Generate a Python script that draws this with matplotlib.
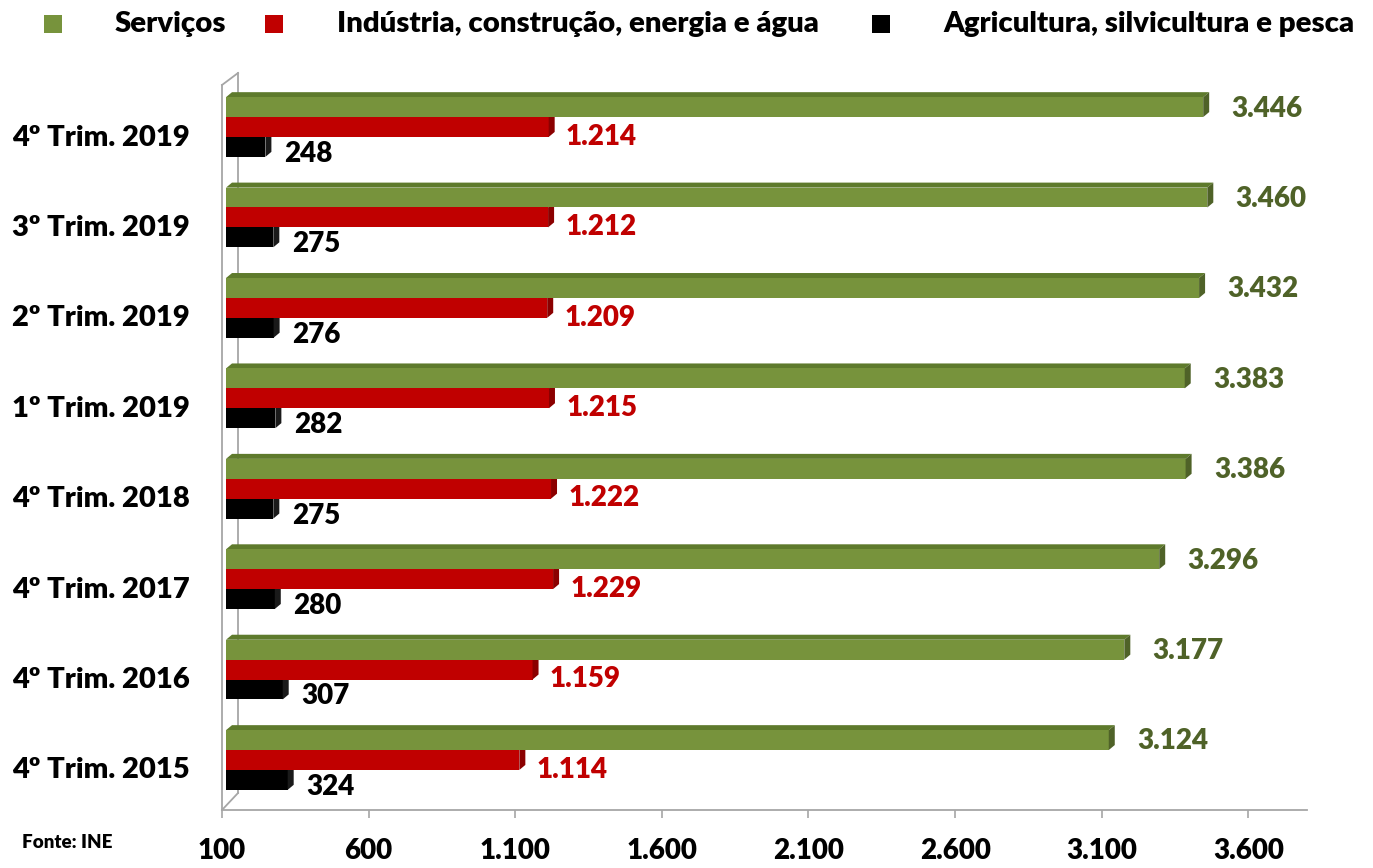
import matplotlib
matplotlib.use("Agg")
import matplotlib.pyplot as plt
from matplotlib.patches import Polygon, Rectangle
from matplotlib.lines import Line2D
from matplotlib.transforms import ScaledTranslation
import numpy as np

# ---------------- data ----------------
categories = ["4º Trim. 2015", "4º Trim. 2016", "4º Trim. 2017", "4º Trim. 2018",
              "1º Trim. 2019", "2º Trim. 2019", "3º Trim. 2019", "4º Trim. 2019"]
servicos = [3124, 3177, 3296, 3386, 3383, 3432, 3460, 3446]
industria = [1114, 1159, 1229, 1222, 1215, 1209, 1212, 1214]
agricultura = [324, 307, 280, 275, 282, 276, 275, 248]
series_names = ["Serviços", "Indústria, construção, energia e água",
                "Agricultura, silvicultura e pesca"]
xticks = [100, 600, 1100, 1600, 2100, 2600, 3100, 3600]
xtick_labels = ["100", "600", "1.100", "1.600", "2.100", "2.600", "3.100", "3.600"]
source = "Fonte: INE"

# ---------------- style ----------------
FONT = ["Lato", "DejaVu Sans"]
plt.rcParams["font.family"] = FONT
WEIGHT = "heavy"
W, H, DPI = 1373, 868, 100
XMIN, XMAX = 100, 3800
YMIN, YMAX = -0.553, 7.5

face = ["#77933C", "#C00000", "#000000"]
top_c = ["#5E7A2C", "#9A0000", "#262626"]
side_c = ["#4F6228", "#8B0000", "#1A1A1A"]
lab_c = ["#4F6228", "#C00000", "#000000"]

fig = plt.figure(figsize=(W / DPI, H / DPI), dpi=DPI)
ax_l, ax_r = 222, 1307
ax_b, ax_t = 810, 81.8
ax = fig.add_axes([ax_l / W, (H - ax_b) / H, (ax_r - ax_l) / W, (ax_b - ax_t) / H])
ax.set_xlim(XMIN, XMAX)
ax.set_ylim(YMIN, YMAX)

px_x = (XMAX - XMIN) / (ax_r - ax_l)     # data units per pixel (x)
px_y = (YMAX - YMIN) / (ax_b - ax_t)     # data units per pixel (y)
dx, dy = 6 * px_x, 5 * px_y
x0 = XMIN + 4 * px_x                     # bars start slightly inside the wall

y = np.arange(len(categories))
bh = 0.22
offs = [bh, 0.0, -bh]
data = [servicos, industria, agricultura]

# draw from bottom (black) to top (green) so upper bars cover lower tops
for k in [2, 1, 0]:
    vals = data[k]
    yc = y + offs[k]
    ax.barh(yc, np.array(vals) - x0, left=x0, height=bh, color=face[k],
            zorder=3 + (2 - k))
    for v, c in zip(vals, yc):
        y0, y1 = c - bh / 2, c + bh / 2
        top = Polygon([(x0, y1), (x0 + dx, y1 + dy), (v + dx, y1 + dy), (v, y1)],
                      closed=True, facecolor=top_c[k], edgecolor="none",
                      zorder=2.9 + (2 - k))
        side = Polygon([(v, y0), (v + dx, y0 + dy), (v + dx, y1 + dy), (v, y1)],
                       closed=True, facecolor=side_c[k], edgecolor="none",
                       zorder=3 + (2 - k))
        ax.add_patch(top)
        ax.add_patch(side)

def fmt(v):
    return f"{v:,}".replace(",", ".")

# value labels
label_off = [(16, -1), (8, -7), (9, -5)]   # points
for k in range(3):
    for v, c in zip(data[k], y + offs[k]):
        ax.annotate(fmt(v), xy=(v + dx, c), xytext=label_off[k],
                    textcoords="offset points", ha="left", va="center",
                    fontsize=20, fontweight=WEIGHT, color=lab_c[k], zorder=10)

# axes styling
for s in ["top", "right", "left"]:
    ax.spines[s].set_visible(False)
ax.spines["bottom"].set_color("#A6A6A6")
ax.spines["bottom"].set_linewidth(1.3)
ax.set_xticks(xticks)
ax.set_xticklabels(xtick_labels, fontsize=20, fontweight=WEIGHT)
ax.tick_params(axis="x", direction="out", length=6, width=1.2, color="#A6A6A6",
               pad=14)
ax.set_yticks(y)
ax.set_yticklabels(categories, fontsize=21, fontweight=WEIGHT)
ax.tick_params(axis="y", length=0, pad=23)
for lab in ax.get_yticklabels():
    lab.set_transform(lab.get_transform() + ScaledTranslation(0, -8 / DPI, fig.dpi_scale_trans))

# 3D side wall
wall_col = "#A6A6A6"
bx = 16 / (ax_r - ax_l)
by_top = (ax_b - 73) / (ax_b - ax_t)
fy_top = (ax_b - 85) / (ax_b - ax_t)
by_bot = 17 / (ax_b - ax_t)
for xs, ys in [([0, 0], [0, fy_top]), ([bx, bx], [by_bot, by_top]),
               ([0, bx], [fy_top, by_top]), ([0, bx], [0, by_bot])]:
    ax.add_line(Line2D(xs, ys, transform=ax.transAxes, color=wall_col, lw=1.3,
                       clip_on=False, zorder=1))

# legend (manual)
sq = 18
leg_y = 24
sq_x = [44, 265, 872]
txt_x = [115, 337, 943]
for k in range(3):
    fig.patches.append(Rectangle((sq_x[k] / W, (H - leg_y - sq / 2) / H), sq / W, sq / H,
                                 transform=fig.transFigure, facecolor=face[k],
                                 edgecolor="none"))
    fig.text(txt_x[k] / W, (H - leg_y) / H, series_names[k], fontsize=21.2,
             fontweight=WEIGHT, ha="left", va="center")

fig.text(22 / W, (H - 843) / H, source, fontsize=13.5, fontweight=WEIGHT,
         ha="left", va="center")

fig.savefig("out.png", dpi=DPI)
